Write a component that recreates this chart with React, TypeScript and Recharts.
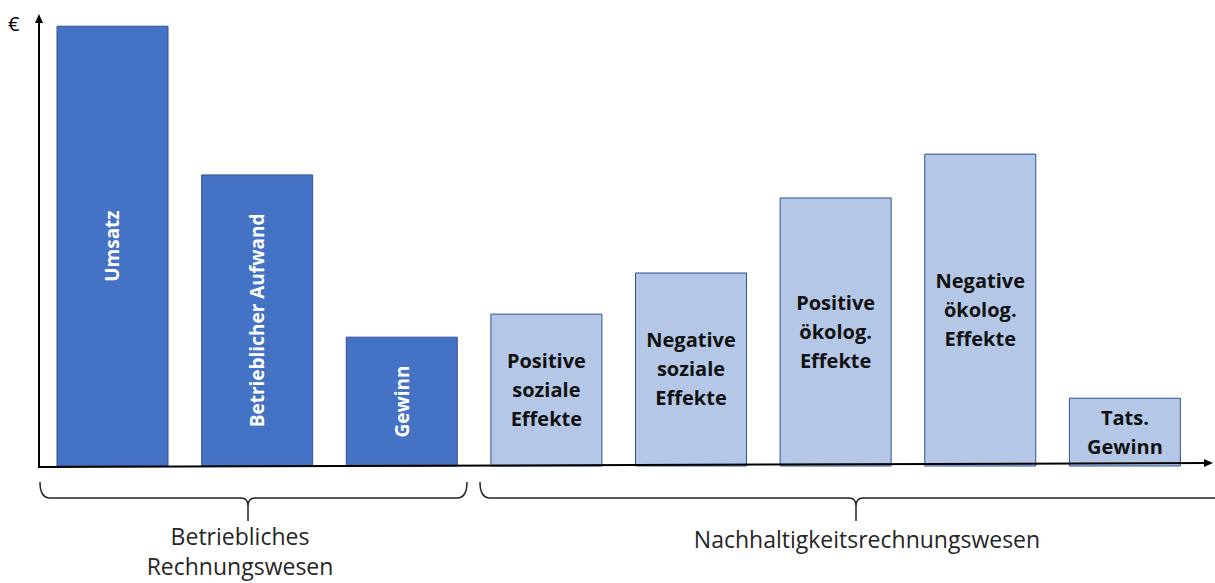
import { BarChart, Bar, XAxis, YAxis, Cell, LabelList } from 'recharts'

const categories = [
  'Umsatz',
  'Betrieblicher Aufwand',
  'Gewinn',
  'Positive soziale Effekte',
  'Negative soziale Effekte',
  'Positive ökolog. Effekte',
  'Negative ökolog. Effekte',
  'Tats. Gewinn',
]
const barLines = [
  ['Umsatz'],
  ['Betrieblicher Aufwand'],
  ['Gewinn'],
  ['Positive', 'soziale', 'Effekte'],
  ['Negative', 'soziale', 'Effekte'],
  ['Positive', 'ökolog.', 'Effekte'],
  ['Negative', 'ökolog.', 'Effekte'],
  ['Tats.', 'Gewinn'],
]
const values = [97.3, 64.4, 28.5, 33.6, 42.7, 59.3, 69.0, 15.0]
const groups = ['betrieb', 'betrieb', 'betrieb', 'nachhaltig', 'nachhaltig', 'nachhaltig', 'nachhaltig', 'nachhaltig']
const groupTitles: Record<string, string[]> = {
  betrieb: ['Betriebliches', 'Rechnungswesen'],
  nachhaltig: ['Nachhaltigkeitsrechnungswesen'],
}

const W = 1215
const H = 583
const M = { top: 14, right: 5, bottom: 117, left: 39 }
const DARK = '#4472C4'
const LIGHT = '#B4C7E7'
const EDGE = '#2F528F'
const FONT = '"Open Sans", "Noto Sans", sans-serif'

const data = categories.map((name, i) => ({ name, value: values[i] }))

// eslint-disable-next-line @typescript-eslint/no-explicit-any
function BarText(props: any) {
  const { x, y, width, height, value } = props
  const i = categories.indexOf(value)
  if (i < 0) return null
  const lines = barLines[i]
  const cx = x + width / 2
  const cy = y + height / 2
  if (groups[i] === 'betrieb') {
    return (
      <text
        x={cx}
        y={cy}
        transform={`rotate(-90 ${cx} ${cy})`}
        textAnchor="middle"
        dominantBaseline="central"
        fill="#fff"
        fontSize={19}
        fontWeight={700}
        fontFamily={FONT}
      >
        {lines[0]}
      </text>
    )
  }
  const lh = 29
  const top = cy - ((lines.length - 1) * lh) / 2
  return (
    <text textAnchor="middle" dominantBaseline="central" fill="#111" fontSize={20} fontWeight={700} fontFamily={FONT}>
      {lines.map((l, k) => (
        <tspan key={k} x={cx} y={top + k * lh - 1}>
          {l}
        </tspan>
      ))}
    </text>
  )
}

function brace(x1: number, x2: number, mid: number) {
  const t = 482
  const b = 498
  return `M${x1},${t} Q${x1},${b} ${x1 + 10},${b} L${mid - 7},${b} Q${mid},${b} ${mid},${b + 8} L${mid},521 M${mid},${b + 8} Q${mid},${b} ${mid + 7},${b} L${x2 - 10},${b} Q${x2},${b} ${x2},${t}`
}

export default function App() {
  const x0 = M.left
  const y0 = H - M.bottom
  const x1 = W - M.right
  const y1 = M.top
  return (
    <div style={{ position: 'relative', width: W, height: H, background: '#fff' }}>
      <style>{'body{margin:0}'}</style>
      <BarChart width={W} height={H} data={data} margin={M}>
        <XAxis dataKey="name" hide padding={{ left: 1, right: 13 }} />
        <YAxis hide domain={[0, 100]} />
        <Bar dataKey="value" barSize={111} stroke={EDGE} strokeWidth={1} isAnimationActive={false}>
          {data.map((d, i) => (
            <Cell key={d.name} fill={groups[i] === 'betrieb' ? DARK : LIGHT} />
          ))}
          <LabelList dataKey="name" content={BarText} />
        </Bar>
      </BarChart>
      <svg width={W} height={H} style={{ position: 'absolute', left: 0, top: 0, pointerEvents: 'none' }}>
        {/* axes with arrow heads */}
        <line x1={x0} y1={y0 + 1} x2={x0} y2={y1 + 6} stroke="#000" strokeWidth={2} />
        <path d={`M${x0},${y1} L${x0 - 4},${y1 + 9} L${x0 + 4},${y1 + 9} z`} fill="#000" />
        <line x1={x0 - 1} y1={y0 + 1} x2={x1 - 4} y2={y0 - 3} stroke="#000" strokeWidth={2} />
        <path d={`M${x1 + 3},${y0 - 3} L${x1 - 6},${y0 - 7} L${x1 - 6},${y0 + 1} z`} fill="#000" />
        <text x={8} y={31} fontSize={20} fontFamily={FONT} fill="#000">
          €
        </text>
        <path d={brace(40, 467, 248)} fill="none" stroke="#222" strokeWidth={1.5} />
        <path d={brace(480, 1232, 856)} fill="none" stroke="#222" strokeWidth={1.5} />
        <text textAnchor="middle" fontSize={23} fontFamily={FONT} fill="#262626">
          {groupTitles.betrieb.map((l, k) => (
            <tspan key={k} x={240} y={545 + k * 30}>
              {l}
            </tspan>
          ))}
        </text>
        <text textAnchor="middle" fontSize={23} fontFamily={FONT} fill="#262626">
          {groupTitles.nachhaltig.map((l, k) => (
            <tspan key={k} x={867} y={548 + k * 30}>
              {l}
            </tspan>
          ))}
        </text>
      </svg>
    </div>
  )
}
